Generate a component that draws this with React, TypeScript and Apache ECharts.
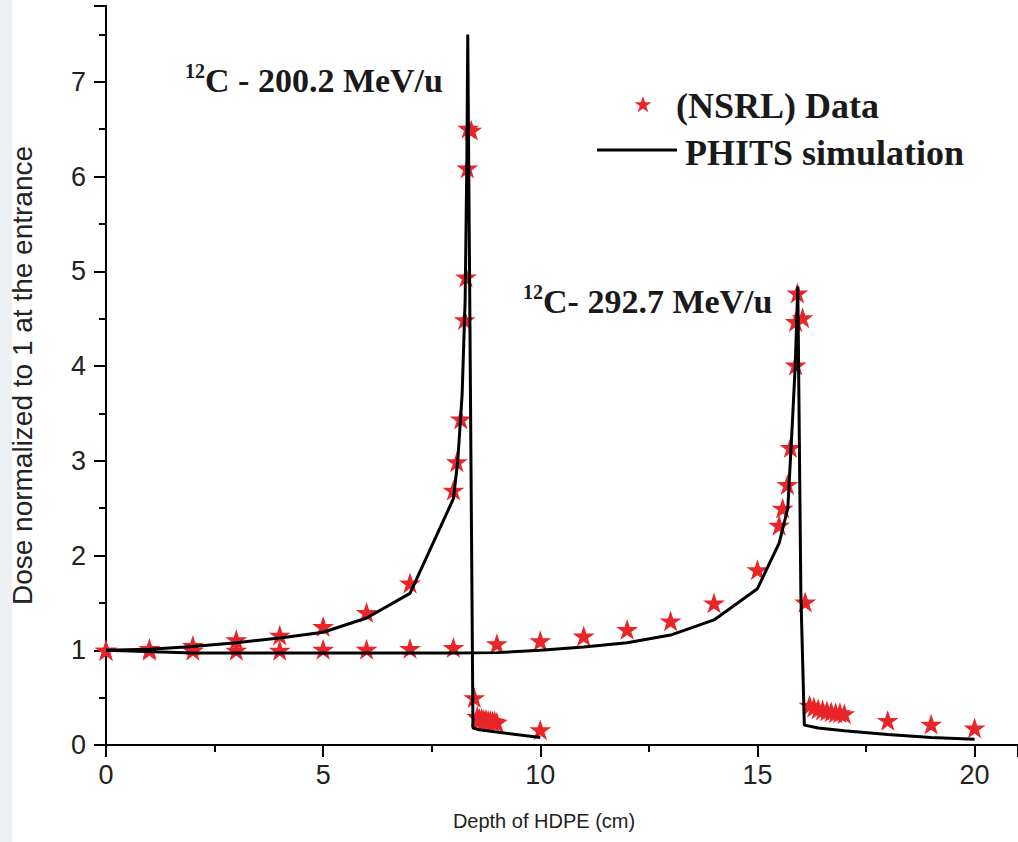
import React, { useEffect, useRef } from "react";
import * as echarts from "echarts";

// ---- Data: 12C 200.2 MeV/u ----
const nsrl200X = [0, 1, 2, 3, 4, 5, 6, 7, 8, 8.08, 8.17, 8.26, 8.29, 8.32, 8.34, 8.41, 8.48, 8.55, 8.6, 8.65, 8.7, 8.75, 8.8, 8.85, 8.9, 8.95, 9.0, 10];
const nsrl200Y = [1.0, 1.02, 1.05, 1.11, 1.16, 1.25, 1.4, 1.71, 2.69, 2.99, 3.44, 4.49, 4.94, 6.09, 6.51, 6.49, 0.5, 0.3, 0.28, 0.28, 0.27, 0.27, 0.26, 0.26, 0.25, 0.25, 0.24, 0.16];
const phits200X = [0, 1, 2, 3, 4, 5, 6, 7, 8, 8.1, 8.2, 8.27, 8.31, 8.33, 8.45, 8.6, 10];
const phits200Y = [1.0, 1.01, 1.04, 1.08, 1.13, 1.19, 1.34, 1.6, 2.6, 3.0, 3.7, 4.7, 6.2, 7.5, 0.18, 0.16, 0.08];

// ---- Data: 12C 292.7 MeV/u ----
const nsrl292X = [0, 1, 2, 3, 4, 5, 6, 7, 8, 9, 10, 11, 12, 13, 14, 15, 15.5, 15.58, 15.69, 15.76, 15.88, 15.88, 15.92, 16.04, 16.1, 16.2, 16.3, 16.4, 16.5, 16.6, 16.7, 16.8, 16.9, 17.0, 18, 19, 20];
const nsrl292Y = [1.0, 1.0, 1.0, 1.0, 1.0, 1.01, 1.01, 1.02, 1.03, 1.07, 1.1, 1.15, 1.22, 1.31, 1.5, 1.85, 2.32, 2.5, 2.75, 3.14, 4.01, 4.47, 4.77, 4.51, 1.51, 0.42, 0.4, 0.38, 0.37, 0.36, 0.35, 0.34, 0.34, 0.33, 0.26, 0.22, 0.18];
const phits292X = [0, 2, 4, 6, 8, 9, 10, 11, 12, 13, 14, 15, 15.5, 15.7, 15.8, 15.87, 15.93, 16.0, 16.08, 16.4, 17, 18, 19, 20];
const phits292Y = [1.0, 0.97, 0.97, 0.97, 0.97, 0.975, 1.0, 1.035, 1.08, 1.16, 1.32, 1.65, 2.13, 2.5, 3.36, 4.0, 4.84, 1.6, 0.21, 0.18, 0.15, 0.11, 0.08, 0.06];

// ---- Axis ticks ----
const xTickInterval = 5;
const yTickInterval = 1;
const xMax = 21;
const yMax = 7.8;

const STAR = "path://M100,0 L122.45,69.1 L195.1,69.1 L136.3,111.8 L158.8,180.9 L100,138.2 L41.2,180.9 L63.7,111.8 L4.9,69.1 L77.55,69.1 Z";
const RED = "#e8262a";
const SANS = "'Liberation Sans', Arial, sans-serif";
const SERIF = "'Liberation Serif', 'Times New Roman', serif";

const zip = (xs: number[], ys: number[]) => xs.map((x, i) => [x, ys[i]]);

function starPoints(cx: number, cy: number, r: number): number[][] {
  const pts: number[][] = [];
  for (let i = 0; i < 10; i++) {
    const a = -Math.PI / 2 + (i * Math.PI) / 5;
    const rr = i % 2 === 0 ? r : r * 0.382;
    pts.push([cx + rr * Math.cos(a), cy + rr * Math.sin(a)]);
  }
  return pts;
}

export default function App() {
  const ref = useRef<HTMLDivElement>(null);
  useEffect(() => {
    if (!ref.current) return;
    const chart = echarts.init(ref.current, null, { renderer: "svg" });
    const axisLine = { lineStyle: { color: "#000", width: 2 } };
    const tickStyle = { color: "#000", width: 2 };
    const option: any = {
      animation: false,
      grid: { left: 105, top: 6, width: 917, height: 739 },
      xAxis: [
        {
          type: "value", position: "bottom", min: 0, max: xMax, interval: xTickInterval,
          axisLine, axisTick: { length: 12, lineStyle: tickStyle },
          minorTick: { show: true, splitNumber: 2, length: 7, lineStyle: tickStyle },
          splitLine: { show: false },
          axisLabel: { fontSize: 27, color: "#222", fontFamily: SANS, margin: 16, showMaxLabel: false },
          name: "Depth of HDPE (cm)", nameLocation: "middle", nameGap: 66,
          nameTextStyle: { fontSize: 20, color: "#222", fontFamily: SANS, padding: [0, 36, 0, 0] },
        },
        {
          type: "value", position: "top", min: 0, max: xMax, interval: xTickInterval,
          axisLine, axisTick: { inside: true, length: 12, lineStyle: tickStyle },
          minorTick: { show: true, splitNumber: 2, length: 7, lineStyle: tickStyle },
          splitLine: { show: false }, axisLabel: { show: false },
        },
      ],
      yAxis: [
        {
          type: "value", position: "left", min: 0, max: yMax, interval: yTickInterval,
          axisLine, axisTick: { length: 12, lineStyle: tickStyle },
          minorTick: { show: true, splitNumber: 2, length: 7, lineStyle: tickStyle },
          splitLine: { show: false },
          axisLabel: { fontSize: 27, color: "#222", fontFamily: SANS, margin: 20, showMaxLabel: false },
          name: "Dose normalized to 1 at the entrance", nameLocation: "middle", nameGap: 70,
          nameTextStyle: { fontSize: 28, color: "#222", fontFamily: SANS },
        },
        {
          type: "value", position: "right", min: 0, max: yMax, interval: yTickInterval,
          axisLine, axisTick: { inside: true, length: 12, lineStyle: tickStyle },
          minorTick: { show: true, splitNumber: 2, length: 7, lineStyle: tickStyle },
          splitLine: { show: false }, axisLabel: { show: false },
        },
      ],
      series: [
        {
          name: "(NSRL) Data", type: "scatter", data: zip(nsrl200X, nsrl200Y),
          symbol: STAR, symbolSize: 22, symbolKeepAspect: true, itemStyle: { color: RED, opacity: 1 }, z: 2,
        },
        {
          name: "(NSRL) Data", type: "scatter", data: zip(nsrl292X, nsrl292Y),
          symbol: STAR, symbolSize: 22, symbolKeepAspect: true, itemStyle: { color: RED, opacity: 1 }, z: 2,
        },
        {
          name: "PHITS simulation", type: "line", data: zip(phits200X, phits200Y),
          showSymbol: false, lineStyle: { color: "#000", width: 3 }, itemStyle: { color: "#000" }, z: 3,
        },
        {
          name: "PHITS simulation", type: "line", data: zip(phits292X, phits292Y),
          showSymbol: false, lineStyle: { color: "#000", width: 3 }, itemStyle: { color: "#000" }, z: 3,
        },
      ],
      graphic: [
        // annotations
        { type: "text", x: 185, y: 71, style: { text: "12", fontSize: 20, fontWeight: "bold", fontFamily: SERIF, fill: "#1a1a1a", align: "left", verticalAlign: "middle" } },
        { type: "text", x: 205, y: 80, style: { text: "C - 200.2 MeV/u", fontSize: 34, fontWeight: "bold", fontFamily: SERIF, fill: "#1a1a1a", align: "left", verticalAlign: "middle" } },
        { type: "text", x: 523, y: 292, style: { text: "12", fontSize: 20, fontWeight: "bold", fontFamily: SERIF, fill: "#1a1a1a", align: "left", verticalAlign: "middle" } },
        { type: "text", x: 543, y: 301, style: { text: "C- 292.7 MeV/u", fontSize: 34, fontWeight: "bold", fontFamily: SERIF, fill: "#1a1a1a", align: "left", verticalAlign: "middle" } },
        // legend
        { type: "polygon", shape: { points: starPoints(643, 105, 9) }, style: { fill: RED } },
        { type: "text", x: 676, y: 106, style: { text: "(NSRL) Data", fontSize: 36, fontWeight: "bold", fontFamily: SERIF, fill: "#1a1a1a", align: "left", verticalAlign: "middle" } },
        { type: "line", shape: { x1: 597, y1: 150, x2: 677, y2: 150 }, style: { stroke: "#000", lineWidth: 3 } },
        { type: "text", x: 685, y: 153, style: { text: "PHITS simulation", fontSize: 36, fontWeight: "bold", fontFamily: SERIF, fill: "#1a1a1a", align: "left", verticalAlign: "middle" } },
      ],
    };
    chart.setOption(option);
    return () => chart.dispose();
  }, []);
  return (
    <div style={{ position: "absolute", left: 0, top: 0, width: 1018, height: 842, background: "#fff", overflow: "hidden" }}>
      <div style={{ position: "absolute", left: 0, top: 0, width: 12, height: 842, background: "#eef1f4" }} />
      <div ref={ref} style={{ position: "absolute", left: 0, top: 0, width: 1018, height: 842 }} />
    </div>
  );
}
